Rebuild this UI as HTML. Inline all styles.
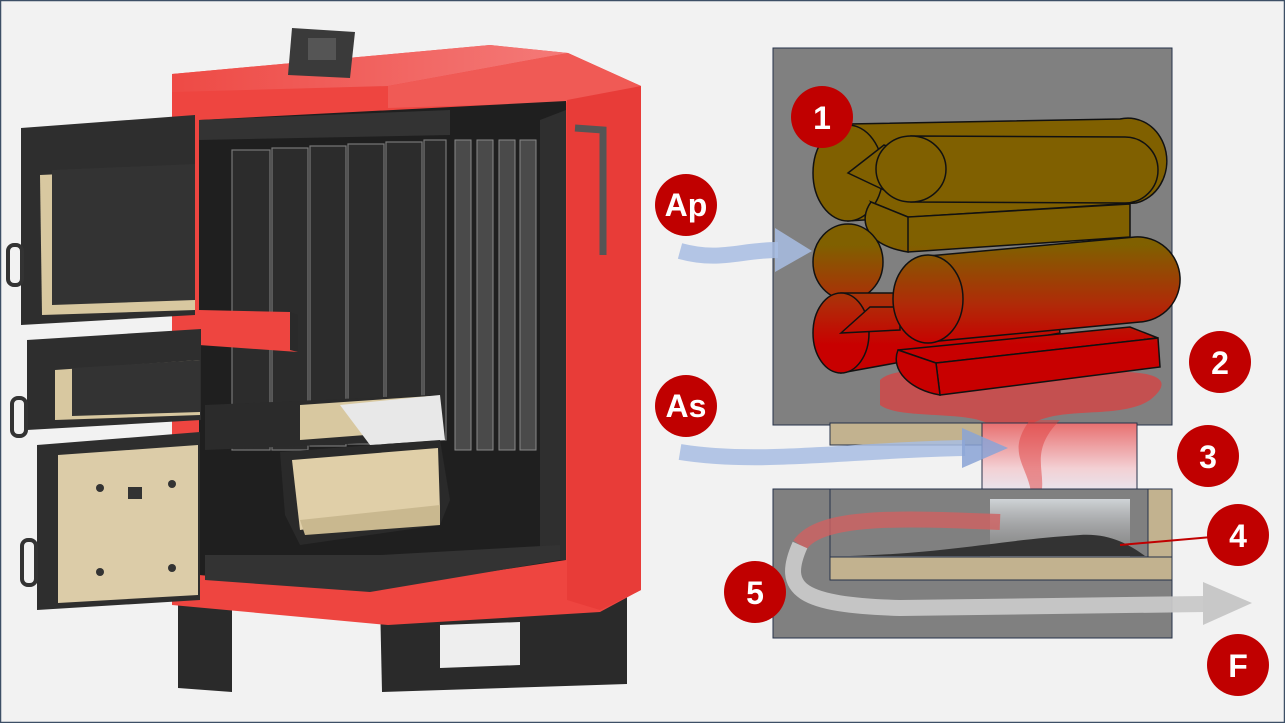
<!DOCTYPE html>
<html><head><meta charset="utf-8"><style>
html,body{margin:0;padding:0;background:#fff}
svg{display:block}
text{font-family:"Liberation Sans",sans-serif;font-weight:bold;fill:#fff}
</style></head><body>
<svg width="1285" height="723" viewBox="0 0 1285 723" xmlns="http://www.w3.org/2000/svg">
<defs>
<linearGradient id="logg" x1="0" y1="245" x2="0" y2="345" gradientUnits="userSpaceOnUse">
<stop offset="0" stop-color="#806000"/><stop offset="0.6" stop-color="#b02a08"/><stop offset="1" stop-color="#c80000"/></linearGradient>
<linearGradient id="heat" x1="0" y1="0" x2="0" y2="1">
<stop offset="0" stop-color="#e87070"/><stop offset="0.6" stop-color="#f3d0d4"/><stop offset="1" stop-color="#e4ecf6"/></linearGradient>
<linearGradient id="smoke" x1="0" y1="0" x2="0" y2="1">
<stop offset="0" stop-color="#d8dce0" stop-opacity="0.9"/><stop offset="1" stop-color="#9a9a9a" stop-opacity="0.2"/></linearGradient>
<linearGradient id="redtop" x1="0" y1="0" x2="1" y2="0"><stop offset="0" stop-color="#ee4a45"/><stop offset="1" stop-color="#f47a78"/></linearGradient>
</defs>
<rect x="0.5" y="0.5" width="1284" height="722" fill="#f2f2f2" stroke="#3d4f66" stroke-width="1.5"/>

<!-- ===== Boiler ===== -->
<polygon points="178,600 232,605 232,692 178,688" fill="#2a2a2a"/>
<polygon points="380,600 627,590 627,684 382,692" fill="#2a2a2a"/>
<polygon points="440,625 520,622 520,665 440,668" fill="#eeeeee"/>
<polygon points="172,74 490,45 568,53 641,86 641,590 600,612 388,625 172,605" fill="#ee4540"/>
<polygon points="172,74 490,45 568,53 388,86 172,92" fill="url(#redtop)"/>
<polygon points="388,86 568,53 641,86 641,100 388,108" fill="#f05a55"/>
<polygon points="567,100 641,86 641,590 600,610 567,600" fill="#e83c38"/>
<polygon points="292,28 355,32 350,78 288,75" fill="#3a3a3a"/>
<rect x="308" y="38" width="28" height="22" fill="#555"/>
<polygon points="199,120 566,101 566,560 369,590 199,575" fill="#1f1f1f"/>
<polygon points="199,120 450,110 450,135 199,140" fill="#333"/>
<g fill="#2c2c2c" stroke="#777" stroke-width="1.2">
<rect x="232" y="150" width="38" height="300"/>
<rect x="272" y="148" width="36" height="302"/>
<rect x="310" y="146" width="36" height="300"/>
<rect x="348" y="144" width="36" height="300"/>
<rect x="386" y="142" width="36" height="300"/>
<rect x="424" y="140" width="22" height="300"/>
</g>
<g fill="#4a4a4a" stroke="#888" stroke-width="1">
<rect x="455" y="140" width="16" height="310"/>
<rect x="477" y="140" width="16" height="310"/>
<rect x="499" y="140" width="16" height="310"/>
<rect x="520" y="140" width="16" height="310"/>
</g>
<polygon points="540,120 566,110 566,560 540,560" fill="#2f2f2f"/>
<path d="M575,128 L603,130 L603,255" stroke="#555" stroke-width="7" fill="none"/>
<polygon points="199,310 290,312 298,328 298,352 199,345" fill="#ee4540"/>
<polygon points="290,312 298,315 298,352 290,350" fill="#2a2a2a"/>
<polygon points="205,405 430,395 440,440 205,450" fill="#2b2b2b"/>
<polygon points="300,405 430,396 430,430 300,440" fill="#d8c8a0"/>
<polygon points="340,405 440,395 445,440 370,445" fill="#e8e8e8"/>
<polygon points="280,452 440,440 450,500 440,525 300,545 285,515" fill="#2a2a2a"/>
<polygon points="292,460 438,448 440,510 300,530" fill="#e0cfa8"/>
<polygon points="300,520 440,505 440,525 305,535" fill="#c9b88f"/>
<polygon points="205,555 380,555 560,545 560,560 370,592 205,580" fill="#333"/>
<polygon points="21,128 195,115 195,315 21,325" fill="#2e2e2e"/>
<polygon points="40,175 195,168 195,310 42,315" fill="#d8c8a0"/>
<polygon points="52,170 195,164 195,300 52,305" fill="#333"/>
<rect x="8" y="245" width="14" height="40" rx="6" fill="none" stroke="#333" stroke-width="4"/>
<polygon points="27,340 201,329 201,420 27,430" fill="#2e2e2e"/>
<polygon points="55,370 200,360 200,415 55,420" fill="#d8c8a0"/>
<polygon points="72,368 200,360 200,412 72,416" fill="#333"/>
<rect x="12" y="398" width="14" height="38" rx="6" fill="none" stroke="#333" stroke-width="4"/>
<polygon points="37,445 200,432 200,600 37,610" fill="#2e2e2e"/>
<polygon points="58,455 198,445 198,595 58,603" fill="#dccca8"/>
<rect x="128" y="487" width="14" height="12" fill="#333"/>
<g fill="#333"><circle cx="100" cy="488" r="4"/><circle cx="172" cy="484" r="4"/><circle cx="100" cy="572" r="4"/><circle cx="172" cy="568" r="4"/></g>
<rect x="22" y="540" width="14" height="45" rx="6" fill="none" stroke="#333" stroke-width="4"/>

<!-- ===== Right diagram ===== -->
<rect x="773" y="48" width="399" height="377" fill="#808080" stroke="#26324a" stroke-width="1"/>
<!-- red cloud under logs -->
<path d="M880,380 C900,360 1000,375 1100,372 C1160,370 1175,380 1150,400 C1120,420 1060,405 1030,425 L990,425 C970,410 900,420 880,405 Z" fill="#d04848" opacity="0.85"/>
<!-- logs -->
<g fill="url(#logg)" stroke="#111" stroke-width="1.5">
<path d="M848,124 L1120,119 A38,42 0 0 1 1136,203 L848,221 Z"/>
<ellipse cx="848" cy="173" rx="35" ry="48"/>
<path d="M911,136 L1125,137 A33,33 0 0 1 1125,203 L911,202 Z"/>
<polygon points="848,173 884,145 911,155 911,185 884,190"/>
<ellipse cx="911" cy="169" rx="35" ry="33"/>
<polygon points="871,202 908,217 1130,204 1130,237 908,252"/>
<path d="M871,202 C858,220 865,245 908,252 L908,217 Z"/>
<ellipse cx="848" cy="262" rx="35" ry="38"/>
<path d="M841,293 L1055,293 L1060,333 L841,373 Z"/>
<ellipse cx="841" cy="333" rx="28" ry="40"/>
<polygon points="841,333 870,307 900,307 900,330"/>
<path d="M928,256 L1135,237 A42,42 0 0 1 1140,322 L928,342 Z"/>
<ellipse cx="928" cy="299" rx="35" ry="44"/>
<polygon points="898,350 1130,327 1158,338 936,363"/>
<polygon points="936,363 1158,338 1160,367 940,395"/>
<path d="M898,350 C890,370 910,390 940,395 L936,363 Z"/>
</g>
<!-- tan & heat -->
<rect x="830" y="423" width="155" height="22" fill="#c2b28f" stroke="#26324a"/>
<rect x="982" y="423" width="155" height="76" fill="url(#heat)" stroke="#26324a"/>
<path d="M1030,420 C1000,460 1040,470 1030,515 C1060,480 1020,460 1060,420 Z" fill="#e04040" opacity="0.5"/>
<!-- lower box -->
<rect x="773" y="489" width="399" height="149" fill="#808080" stroke="#26324a"/>
<rect x="830" y="489" width="318" height="68" fill="#808080" stroke="#26324a"/>
<rect x="1148" y="489" width="24" height="68" fill="#c2b28f" stroke="#26324a"/>
<rect x="830" y="557" width="342" height="23" fill="#c2b28f" stroke="#26324a"/>
<rect x="990" y="499" width="140" height="58" fill="url(#smoke)"/>
<path d="M850,556 C950,553 1000,540 1080,535 C1110,533 1130,545 1145,556 Z" fill="#333"/>
<path d="M1000,522 C900,518 820,515 800,545" stroke="#d06060" stroke-width="16" fill="none" opacity="0.8"/>
<path d="M800,545 C780,590 800,605 900,608 L1205,604" stroke="#c8c8c8" stroke-width="16" fill="none" opacity="0.95"/>
<polygon points="1203,582 1252,603 1203,625" fill="#c8c8c8"/>
<path d="M680,251 C720,262 740,250 778,250" stroke="#a8bde3" stroke-width="16" fill="none" opacity="0.85"/>
<polygon points="775,228 812,251 775,272" fill="#a8bde3" opacity="0.85"/>
<path d="M680,452 C760,465 850,450 965,448" stroke="#a8bde3" stroke-width="16" fill="none" opacity="0.85"/>
<polygon points="962,428 1008,448 962,468" fill="#8aa3d6" opacity="0.85"/>
<line x1="1120" y1="545" x2="1212" y2="537" stroke="#c00000" stroke-width="2"/>
<g fill="#c00000">
<circle cx="822" cy="117" r="31"/>
<circle cx="686" cy="205" r="31"/>
<circle cx="686" cy="406" r="31"/>
<circle cx="1220" cy="362" r="31"/>
<circle cx="1208" cy="456" r="31"/>
<circle cx="1238" cy="535" r="31"/>
<circle cx="755" cy="592" r="31"/>
<circle cx="1238" cy="665" r="31"/>
</g>
<g font-size="32" text-anchor="middle">
<text x="822" y="129">1</text>
<text x="686" y="216">Ap</text>
<text x="686" y="417">As</text>
<text x="1220" y="374">2</text>
<text x="1208" y="468">3</text>
<text x="1238" y="547">4</text>
<text x="755" y="604">5</text>
<text x="1238" y="677">F</text>
</g>
</svg>
</body></html>
